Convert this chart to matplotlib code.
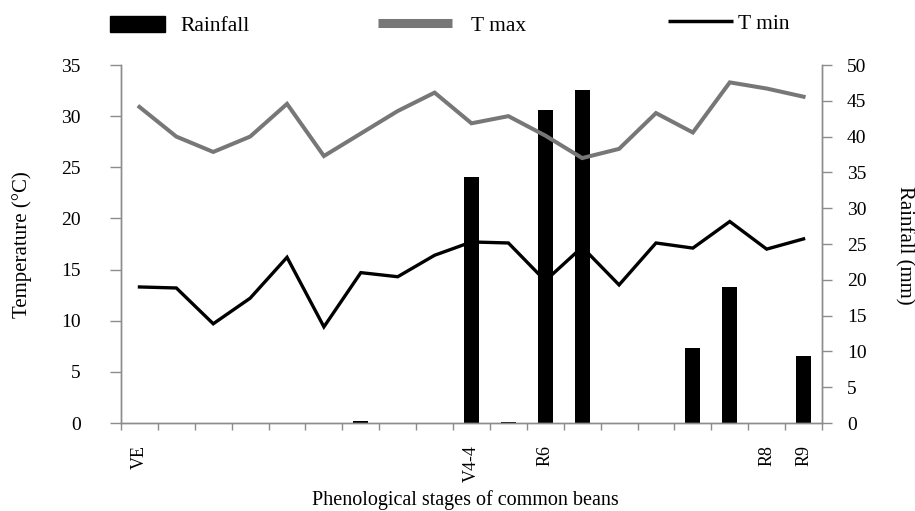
import matplotlib
matplotlib.use('Agg')
import matplotlib.pyplot as plt
import numpy as np
from matplotlib.lines import Line2D
from matplotlib.patches import Patch

plt.rcParams['font.family'] = ['Liberation Serif', 'DejaVu Serif']

# data (19 sampling dates)
t_max = [30.9, 28.0, 26.5, 28.0, 31.2, 26.1, 28.3, 30.5, 32.3, 29.3,
         30.0, 28.1, 25.9, 26.8, 30.3, 28.4, 33.3, 32.7, 31.9]
t_min = [13.3, 13.2, 9.7, 12.2, 16.2, 9.4, 14.7, 14.3, 16.4, 17.7,
         17.6, 13.9, 17.2, 13.5, 17.6, 17.1, 19.7, 17.0, 18.0]
rainfall = [0, 0, 0, 0, 0, 0, 0.3, 0, 0, 34.4,
            0.2, 43.7, 46.5, 0, 0, 10.5, 19.0, 0, 9.4]
stage_pos = [0, 9, 11, 17, 18]
stage_labels = ['VE', 'V4-4', 'R6', 'R8', 'R9']

x = np.arange(len(t_max))
spine_col = '#8c8c8c'
gray = '#777777'

fig = plt.figure(figsize=(9.15, 5.11), dpi=100)
ax = fig.add_axes([121/915, 1-423/511, 701/915, 358/511])
ax2 = ax.twinx()

# bars on the rainfall axis, lines drawn on top
ax2.bar(x, rainfall, width=0.4, color='black', zorder=2)
ax.plot(x, t_max, color=gray, lw=2.9, solid_joinstyle='miter', zorder=3)
ax.plot(x, t_min, color='black', lw=2.4, solid_joinstyle='miter', zorder=3)
ax.set_zorder(ax2.get_zorder() + 1)
ax.patch.set_visible(False)

ax.set_xlim(-0.5, len(x) - 0.5)
ax.set_ylim(0, 35)
ax.set_yticks(np.arange(0, 36, 5))
ax2.set_ylim(0, 50)
ax2.set_yticks(np.arange(0, 51, 5))

ax.set_xticks(stage_pos)
ax.set_xticklabels(stage_labels, rotation=90, fontsize=13)
ax.set_xticks(np.arange(-0.5, len(x)), minor=True)
ax.tick_params(axis='x', which='major', length=0, pad=16)
ax.tick_params(axis='x', which='minor', length=5, width=1, color=spine_col)
ax.tick_params(axis='y', length=8, width=1, color=spine_col, pad=21, labelsize=14)
ax2.tick_params(axis='y', length=7, width=1, color=spine_col, pad=11, labelsize=14)

for a in (ax, ax2):
    a.spines['top'].set_visible(False)
    for s in ('left', 'right', 'bottom'):
        a.spines[s].set_color(spine_col)
        a.spines[s].set_linewidth(1)

fig.text(22/915, 1-245/511, 'Temperature (°C)', rotation=90,
         ha='center', va='center', fontsize=15)
fig.text(904/915, 1-245/511, 'Rainfall (mm)', rotation=270,
         ha='center', va='center', fontsize=15)
fig.text(465/915, 1-505/511, 'Phenological stages of common beans',
         ha='center', va='baseline', fontsize=14.5)

# legend across the top
leg_items = [
    (Patch(facecolor='black', edgecolor='black'), 'Rainfall', 110, 2.55, 0.7, 26),
    (Line2D([], [], color=gray, lw=6.5, solid_capstyle='butt'), 'T max', 378, 3.45, 0.85, 26),
    (Line2D([], [], color='black', lw=2.5, solid_capstyle='butt'), 'T min', 668, 3.0, 0.25, 24),
]
for h, lab, px, hl, tp, py in leg_items:
    fig.legend([h], [lab], loc='center left', bbox_to_anchor=(px/915, 1-py/511),
               frameon=False, borderaxespad=0, borderpad=0, fontsize=15.5,
               handlelength=hl, handletextpad=tp, handleheight=0.75)

fig.savefig('out.png', dpi=100)
